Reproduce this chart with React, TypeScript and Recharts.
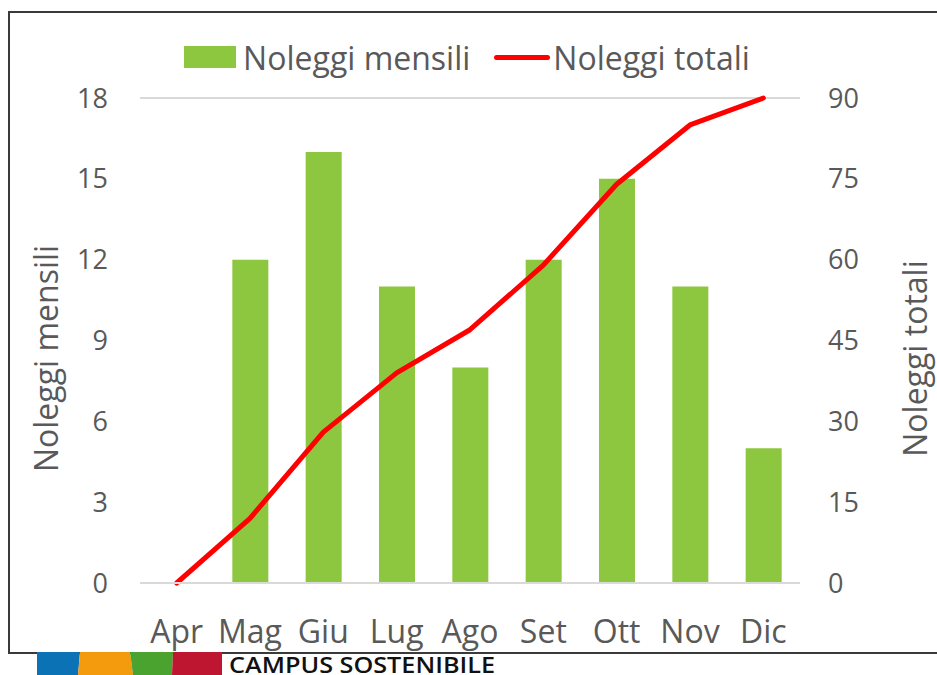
import React from 'react';
import { ComposedChart, Bar, Line, XAxis, YAxis, CartesianGrid, Legend } from 'recharts';

const months = ['Apr', 'Mag', 'Giu', 'Lug', 'Ago', 'Set', 'Ott', 'Nov', 'Dic'];
const monthly = [0, 12, 16, 11, 8, 12, 15, 11, 5];
const total = [0, 12, 28, 39, 47, 59, 74, 85, 90];
const leftTicks = [0, 3, 6, 9, 12, 15, 18];
const rightTicks = [0, 15, 30, 45, 60, 75, 90];

const FONT = '"Open Sans", sans-serif';
const GREEN = '#8DC63F';
const RED = '#FF0000';
const GREY = '#595959';

const chartData = months.map((m, i) => ({ month: m, mensili: monthly[i], totali: total[i] }));

// legend drawn as html so the swatch sizes match the original
const LegendBox = () => (
    <div style={{ display: 'flex', justifyContent: 'center', alignItems: 'center', fontFamily: FONT, fontSize: 32, color: GREY, height: 36, paddingRight: 13 }}>
        <span style={{ width: 52, height: 22, background: GREEN, display: 'inline-block', marginRight: 7 }} />
        <span>Noleggi mensili</span>
        <span style={{ width: 56, height: 5, borderRadius: 3, background: RED, display: 'inline-block', marginLeft: 24, marginRight: 3 }} />
        <span>Noleggi totali</span>
    </div>
);

// rotated axis title, a bit below the plot centre like the original
const AxisTitle = (props: any) => {
    const { viewBox, value, side } = props;
    if (!viewBox) return null;
    const x = side === 'left' ? viewBox.x + 35 : viewBox.x + viewBox.width - 23;
    const y = viewBox.y + viewBox.height / 2 + 18;
    return (
        <text x={x} y={y} transform={`rotate(-90, ${x}, ${y})`} textAnchor="middle" dominantBaseline="central"
            fill={GREY} fontSize={32} fontFamily={FONT}>{value}</text>
    );
};

const Logo = () => (
    <svg width={520} height={24} style={{ position: 'absolute', left: 0, top: 651 }}>
        <polygon points="37,1 80,1 78,24 37,24" fill="#0A72B5" />
        <polygon points="80,1 130,1 133,24 78,24" fill="#F39A0D" />
        <polygon points="130,1 173,1 172,24 133,24" fill="#4AA22F" />
        <polygon points="173,1 222,1 222,24 172,24" fill="#BE1530" />
        <text x={229} y={22} fontFamily='"Open Sans", sans-serif' fontSize={22} fontWeight={600} fill="#111" textLength={266} lengthAdjust="spacingAndGlyphs">CAMPUS SOSTENIBILE</text>
    </svg>
);

export default function App() {
    return (
        <div style={{ position: 'absolute', left: 0, top: 0, width: 937, height: 675, overflow: 'hidden', background: '#fff' }}>
            <div style={{ position: 'absolute', left: 8, top: 11, width: 940, height: 639, border: '2px solid #3a3a3a' }} />
            <div style={{ position: 'absolute', left: 10, top: 13 }}>
                <ComposedChart width={927} height={655} data={chartData} margin={{ top: 49, right: 0, bottom: 18, left: 0 }}>
                    <CartesianGrid vertical={false} stroke="#d9d9d9" strokeWidth={2} />
                    <XAxis dataKey="month" height={67} tickLine={false} axisLine={{ stroke: '#d9d9d9', strokeWidth: 2 }}
                        tick={{ fill: GREY, fontSize: 32, fontFamily: FONT }} tickMargin={31} />
                    <YAxis yAxisId="left" width={130} domain={[0, 18]} ticks={leftTicks} tickLine={false} axisLine={false}
                        tick={{ fill: GREY, fontSize: 27, fontFamily: FONT }} tickMargin={26}
                        label={<AxisTitle value="Noleggi mensili" side="left" />} />
                    <YAxis yAxisId="right" orientation="right" width={137} domain={[0, 90]} ticks={rightTicks} tickLine={false} axisLine={false}
                        tick={{ fill: GREY, fontSize: 27, fontFamily: FONT }} tickMargin={22}
                        label={<AxisTitle value="Noleggi totali" side="right" />} />
                    <Legend verticalAlign="top" content={() => <LegendBox />} wrapperStyle={{ top: 26, left: 0, width: 927 }} />
                    <Bar yAxisId="left" dataKey="mensili" name="Noleggi mensili" fill={GREEN} barSize={36} isAnimationActive={false} />
                    <Line yAxisId="right" dataKey="totali" name="Noleggi totali" type="linear" stroke={RED} strokeWidth={5}
                        strokeLinejoin="round" strokeLinecap="round" dot={false} activeDot={false} isAnimationActive={false} />
                </ComposedChart>
            </div>
            <Logo />
        </div>
    );
}
